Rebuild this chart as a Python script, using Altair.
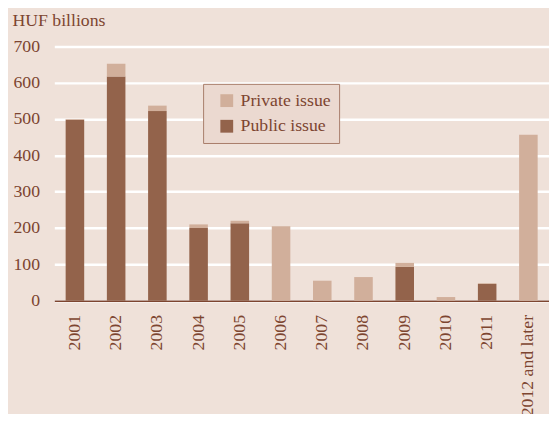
import altair as alt
import pandas as pd

categories = ["2001", "2002", "2003", "2004", "2005", "2006", "2007", "2008",
              "2009", "2010", "2011", "2012 and later"]
public_issue = [498, 617, 522, 200, 213, 0, 0, 0, 93, 0, 46, 0]
private_issue = [2, 35, 15, 10, 7, 205, 55, 65, 11, 10, 2, 457]
series = ["Private issue", "Public issue"]

rows = []
for c, pu, pr in zip(categories, public_issue, private_issue):
    rows.append({"cat": c, "type": "Public issue", "value": pu, "ord": 0})
    rows.append({"cat": c, "type": "Private issue", "value": pr, "ord": 1})
df = pd.DataFrame(rows)

BG = "#EFE1D9"
TXT = "#7D4530"
PUB = "#93634B"
PRI = "#D1AF9B"
FONT = "Liberation Serif"

chart = alt.Chart(df).mark_bar().encode(
    x=alt.X("cat:N", sort=categories,
            scale=alt.Scale(paddingInner=0.55, paddingOuter=0.275),
            axis=alt.Axis(title=None, labelAngle=-90, labelAlign="right",
                          labelBaseline="middle", labelPadding=14, ticks=False,
                          domainColor=TXT, domainWidth=1.5, grid=False,
                          labelFontSize=18, labelColor=TXT, labelFont=FONT,
                          labelLimit=300)),
    y=alt.Y("value:Q", stack="zero",
            scale=alt.Scale(domain=[0, 700]),
            axis=alt.Axis(values=[0, 100, 200, 300, 400, 500, 600, 700],
                          title="HUF billions", titleAngle=0, titleAlign="left",
                          titleBaseline="middle", titleX=-43, titleY=-26,
                          titleFont=FONT, titleFontSize=18, titleFontWeight="normal",
                          titleColor=TXT, domain=False, ticks=False,
                          labelPadding=15, labelFontSize=18, labelColor=TXT,
                          labelFont=FONT, gridColor="white", gridWidth=2.5)),
    color=alt.Color("type:N", scale=alt.Scale(domain=series, range=[PRI, PUB]),
                    legend=alt.Legend(title=None, orient="none", legendX=151,
                                      legendY=38, symbolType="square",
                                      symbolSize=169, symbolStrokeWidth=0,
                                      symbolOffset=7, labelOffset=5,
                                      labelFont=FONT, labelFontSize=18,
                                      labelColor=TXT, strokeColor="#A87D6A",
                                      fillColor="#EBD9D0", padding=8,
                                      rowPadding=8, labelLimit=200)),
    order=alt.Order("ord:Q"),
).properties(
    width=502, height=258, background=BG,
    autosize=alt.AutoSizeParams(type="none"),
    padding={"left": 47, "top": 36, "right": 0, "bottom": 112},
).configure_view(stroke=None)

chart.save("out.html", embed_options={"renderer": "svg", "actions": False})
